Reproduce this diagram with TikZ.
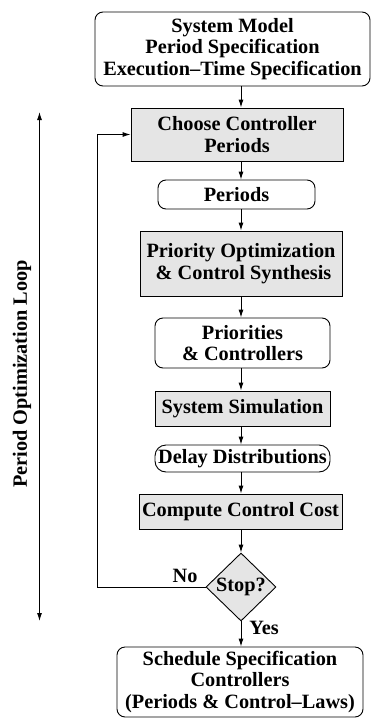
\documentclass[tikz,border=0pt]{standalone}
\usepackage{fontspec}
\setmainfont{Liberation Serif}
\usetikzlibrary{arrows.meta,shapes.geometric}

\newcommand{\chartfont}{\fontsize{20.3}{21.7}\selectfont\bfseries}

\tikzset{
  base/.style={draw=black, line width=0.9pt, align=center, inner sep=0pt,
               font=\chartfont},
  procbox/.style={base, fill=black!10},
  databox/.style={base, rounded corners=8pt},
  decision/.style={base, diamond, fill=black!10, aspect=1},
  flow/.style={line width=0.9pt, -{Latex[length=8pt,width=5pt]}},
  lbl/.style={font=\chartfont, inner sep=0pt}
}

\begin{document}
\begin{tikzpicture}[x=1pt, y=-1pt]
  \useasboundingbox (0,0) rectangle (373,718);

  % main column of the flow chart
  \node[databox, minimum width=275pt, minimum height=74pt] (spec) at (232.5,49)
    {System Model\\Period Specification\\Execution--Time Specification};
  \node[procbox, minimum width=212pt, minimum height=53pt] (choose) at (237,134.5)
    {Choose Controller\\Periods};
  \node[databox, minimum width=157pt, minimum height=29pt] (periods) at (236.5,194.5)
    {Periods};
  \node[procbox, minimum width=202pt, minimum height=65pt] (prio) at (241,263.5)
    {Priority Optimization\\\ \& Control Synthesis};
  \node[databox, minimum width=175pt, minimum height=50pt] (prioctl) at (242.5,343)
    {Priorities\\\& Controllers};
  \node[procbox, minimum width=175pt, minimum height=35pt] (sim) at (242.5,408.5)
    {System Simulation};
  \node[databox, rounded corners=11pt, minimum width=175pt, minimum height=27pt] (delay) at (242.5,458.5)
    {Delay Distributions};
  \node[procbox, minimum width=203pt, minimum height=35pt] (cost) at (240.5,511.5)
    {Compute Control Cost};
  \node[decision, minimum width=70pt, minimum height=68pt] (stop) at (241,587)
    {Stop?};
  \node[databox, minimum width=246pt, minimum height=70pt] (result) at (240,682)
    {Schedule Specification\\Controllers\\(Periods \& Control--Laws)};

  % vertical axis of the arrows and x position of the feedback line
  \coordinate (axis) at (241,0);
  \coordinate (loopx) at (97,0);

  \draw[flow] (spec.south -| axis) -- (choose.north -| axis);
  \draw[flow] (choose.south -| axis) -- (periods.north -| axis);
  \draw[flow] (periods.south -| axis) -- (prio.north -| axis);
  \draw[flow] (prio.south -| axis) -- (prioctl.north -| axis);
  \draw[flow] (prioctl.south -| axis) -- (sim.north -| axis);
  \draw[flow] (sim.south -| axis) -- (delay.north -| axis);
  \draw[flow] (delay.south -| axis) -- (cost.north -| axis);
  \draw[flow] (cost.south -| axis) -- (stop.north);
  \draw[flow] (stop.south) -- (result.north -| axis);

  % feedback loop back to the period choice
  \draw[flow] (stop.west) -- (stop.west -| loopx) |- (choose.west);
  \node[lbl] (no) at (185,576) {No};
  \node[lbl] (yes) at (264,628) {Yes};

  % extent of the optimization loop
  \coordinate (looptop) at (39.5,112);
  \coordinate (loopbot) at (39.5,621);
  \draw[line width=0.9pt, {Latex[length=8pt,width=5pt]}-{Latex[length=8pt,width=5pt]}] (looptop) -- (loopbot);
  \node[lbl, rotate=90] (looplbl) at (22,374) {Period Optimization Loop};
\end{tikzpicture}
\end{document}
